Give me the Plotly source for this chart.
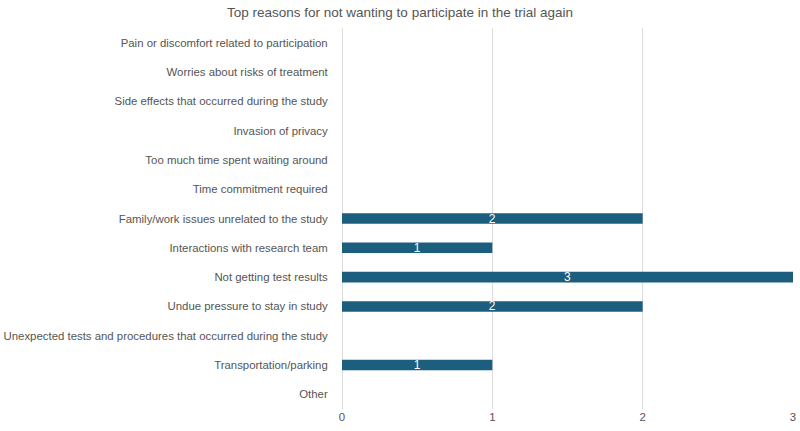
import plotly.graph_objects as go

categories = [
    "Pain or discomfort related to participation",
    "Worries about risks of treatment",
    "Side effects that occurred during the study",
    "Invasion of privacy",
    "Too much time spent waiting around",
    "Time commitment required",
    "Family/work issues unrelated to the study",
    "Interactions with research team",
    "Not getting test results",
    "Undue pressure to stay in study",
    "Unexpected tests and procedures that occurred during the study",
    "Transportation/parking",
    "Other",
]
values = [0, 0, 0, 0, 0, 0, 2, 1, 3, 2, 0, 1, 0]
labels = [str(v) if v else "" for v in values]

fig = go.Figure(go.Bar(
    y=categories, x=values, orientation="h",
    marker=dict(color="#1b5e7d", line=dict(width=0)),
    text=labels, textposition="inside", insidetextanchor="middle", textangle=0,
    textfont=dict(color="white", size=12, family="Liberation Sans"),
    width=0.36, cliponaxis=False,
))
fig.update_layout(
    width=800, height=431,
    margin=dict(l=342, r=7, t=28, b=22, autoexpand=False),
    paper_bgcolor="white", plot_bgcolor="white",
    title=dict(text="Top reasons for not wanting to participate in the trial again",
               x=0.5, xanchor="center", y=0.972, yanchor="middle",
               font=dict(family="Liberation Sans", size=13.5, color="#555555")),
    font=dict(family="Liberation Sans", size=11.4, color="#555555"),
    showlegend=False,
    uniformtext=dict(mode="show", minsize=12),
)
fig.update_xaxes(range=[0, 3], dtick=1, showgrid=True, gridcolor="#dddddd", gridwidth=1,
                 zeroline=True, zerolinecolor="#dddddd", zerolinewidth=1,
                 showline=False, ticks="", automargin=False,
                 tickfont=dict(size=11.4, color="#555555"))
fig.update_yaxes(categoryorder="array", categoryarray=categories, autorange="reversed",
                 showgrid=False, showline=False, ticks="outside", ticklen=11,
                 tickcolor="rgba(0,0,0,0)", automargin=False,
                 tickfont=dict(size=11.4, color="#555555"))
fig.write_html("out.html")
